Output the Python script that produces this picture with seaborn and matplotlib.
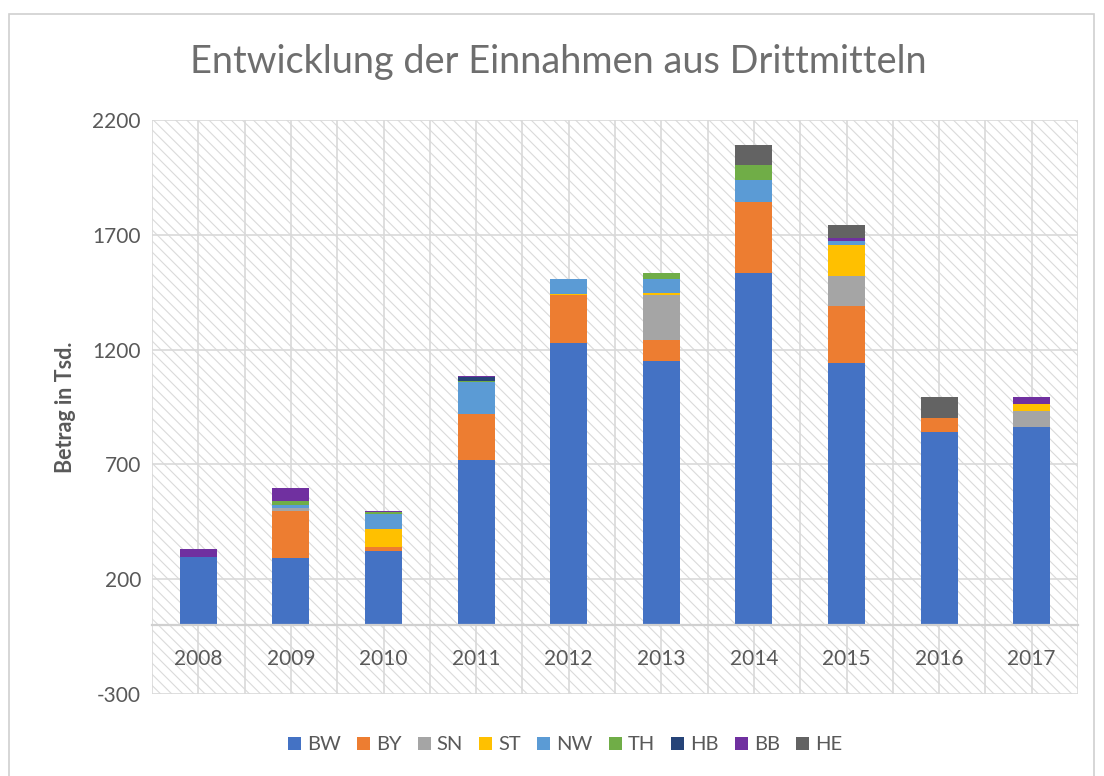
import matplotlib
matplotlib.use("Agg")
import matplotlib.pyplot as plt
from matplotlib.patches import Rectangle, Patch
import seaborn as sns
import pandas as pd
import numpy as np

years = [2008, 2009, 2010, 2011, 2012, 2013, 2014, 2015, 2016, 2017]
states = ["BW", "BY", "SN", "ST", "NW", "TH", "HB", "BB", "HE"]
BW = [295, 293, 324, 719, 1227, 1149, 1532, 1140, 840, 861]
BY = [0, 206, 17, 201, 209, 93, 309, 251, 62, 0]
SN = [0, 12, 0, 0, 0, 194, 0, 130, 0, 73]
ST = [0, 0, 77, 0, 5, 12, 0, 136, 0, 29]
NW = [0, 14, 68, 140, 65, 60, 98, 17, 0, 0]
TH = [0, 17, 6, 5, 0, 26, 65, 0, 0, 0]
HB = [0, 0, 0, 17, 3, 0, 0, 0, 0, 0]
BB = [37, 56, 7, 4, 0, 0, 0, 10, 0, 29]
HE = [0, 0, 0, 0, 0, 0, 87, 58, 90, 0]
series = {"BW": BW, "BY": BY, "SN": SN, "ST": ST, "NW": NW,
          "TH": TH, "HB": HB, "BB": BB, "HE": HE}
colors = {"BW": "#4472C4", "BY": "#ED7D31", "SN": "#A5A5A5", "ST": "#FFC000",
          "NW": "#5B9BD5", "TH": "#70AD47", "HB": "#264478", "BB": "#7030A0",
          "HE": "#636363"}
yticks = [-300, 200, 700, 1200, 1700, 2200]

rows = []
for s in states:
    for y, v in zip(years, series[s]):
        rows.append({"year": y, "state": s, "value": v})
df = pd.DataFrame(rows)

sns.set_theme(style="white")
plt.rcParams["font.family"] = ["Lato", "DejaVu Sans"]
plt.rcParams["hatch.linewidth"] = 0.8
plt.rcParams["axes.unicode_minus"] = False
txt = "#595959"
grid = "#d9d9d9"

fig = plt.figure(figsize=(11.04, 7.76), dpi=100)
ax = fig.add_axes([152/1104, 1-694/776, (1078-152)/1104, (694-120)/776])

# hatched plot-area background
ax.add_patch(Rectangle((0, 0), 1, 1, transform=ax.transAxes, facecolor="white",
                       edgecolor="#dadada", hatch="\\\\\\", lw=0, zorder=0))

sns.histplot(data=df, x="year", weights="value", hue="state",
             hue_order=states[::-1], palette=colors, multiple="stack",
             discrete=True, shrink=0.4, alpha=1, linewidth=0, legend=False, ax=ax)

ax.set_xlim(years[0]-0.5, years[-1]+0.5)
ax.set_ylim(yticks[0], yticks[-1])
ax.set_yticks(yticks)
ax.set_xticks(years)
ax.set_xticks([y - 0.5 for y in years] + [years[-1] + 0.5], minor=True)
ax.set_xticklabels([str(y) for y in years])
ax.set_axisbelow(True)
ax.grid(True, which="major", color=grid, lw=1.2)
ax.grid(True, which="minor", axis="x", color=grid, lw=1.2)

for side in ["top", "right", "left"]:
    ax.spines[side].set_visible(False)
ax.spines["bottom"].set_position(("data", 0))
ax.spines["bottom"].set_color("#d0d0d0")
ax.spines["bottom"].set_linewidth(1.6)
ax.tick_params(axis="x", which="both", length=0, pad=17, labelsize=15, labelcolor=txt)
ax.tick_params(axis="y", length=0, pad=8, labelsize=15, labelcolor=txt)
ax.set_xlabel("")
ax.set_ylabel("Betrag in Tsd.", fontsize=15.5, fontweight="bold", color=txt, labelpad=12)

fig.text(558/1104, 1-62/776, "Entwicklung der Einnahmen aus Drittmitteln",
         ha="center", va="center", fontsize=27.3, color="#6e6e6e")

handles = [Patch(facecolor=colors[s], edgecolor="none") for s in states]
fig.legend(handles, states, loc="center", bbox_to_anchor=(565/1104, 1-745/776),
           ncol=9, frameon=False, fontsize=14.5, handlelength=0.65, handleheight=0.65,
           handletextpad=0.3, columnspacing=0.8, labelcolor=txt)

fig.add_artist(Rectangle((9/1104, -0.01), (1094-9)/1104, 1.01-14/776,
                         transform=fig.transFigure, fill=False,
                         edgecolor="#d0d0d0", lw=1.2))

fig.savefig("out.png", dpi=100)
